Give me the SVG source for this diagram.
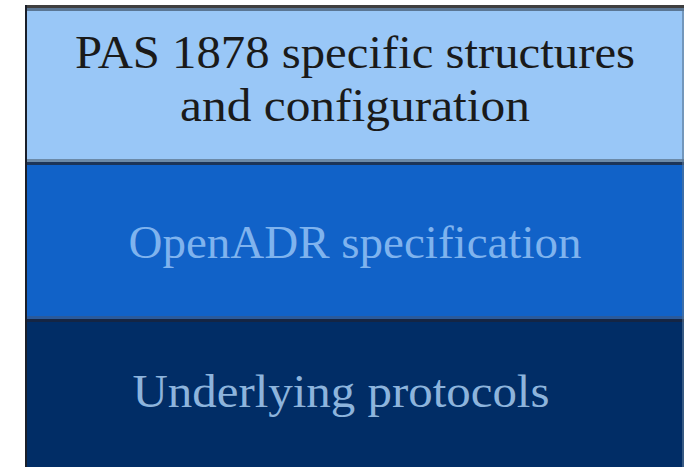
<svg xmlns="http://www.w3.org/2000/svg" width="684" height="467" viewBox="0 0 684 467">
<style>
.t{font-family:"Liberation Serif","DejaVu Serif",serif;font-size:46px;text-anchor:middle}
</style>
<rect x="0" y="0" width="684" height="467" fill="#ffffff"/>
<g id="layer-pas">
<rect x="25" y="5" width="659" height="157" fill="#99c7f7"/>
<rect x="25" y="5" width="659" height="3" fill="#3f3f3f"/>
<rect x="25" y="8" width="659" height="3" fill="#5a7694"/>
<text class="t" x="355" y="68" fill="#1a1a1a" textLength="560" lengthAdjust="spacingAndGlyphs">PAS 1878 specific structures</text>
<text class="t" x="355" y="121" fill="#1a1a1a" textLength="350" lengthAdjust="spacingAndGlyphs">and configuration</text>
</g>
<g id="layer-openadr">
<rect x="25" y="159" width="659" height="3" fill="#6c8aa8"/>
<rect x="25" y="162" width="659" height="3" fill="#1d3558"/>
<rect x="25" y="165" width="659" height="151" fill="#1162c8"/>
<text class="t" x="355" y="258" fill="#7fb3ee" textLength="453" lengthAdjust="spacingAndGlyphs">OpenADR specification</text>
</g>
<g id="layer-underlying">
<rect x="25" y="316" width="659" height="3" fill="#2a5a9c"/>
<rect x="25" y="319" width="659" height="3" fill="#142544"/>
<rect x="25" y="322" width="659" height="145" fill="#012d66"/>
<text class="t" x="341" y="407" fill="#8db4dc" textLength="417" lengthAdjust="spacingAndGlyphs">Underlying protocols</text>
</g>
<rect x="25" y="5" width="2" height="462" fill="#1a1f2a"/>
<rect x="682" y="8" width="2" height="459" fill="#5a7694" opacity="0.6"/>
</svg>
